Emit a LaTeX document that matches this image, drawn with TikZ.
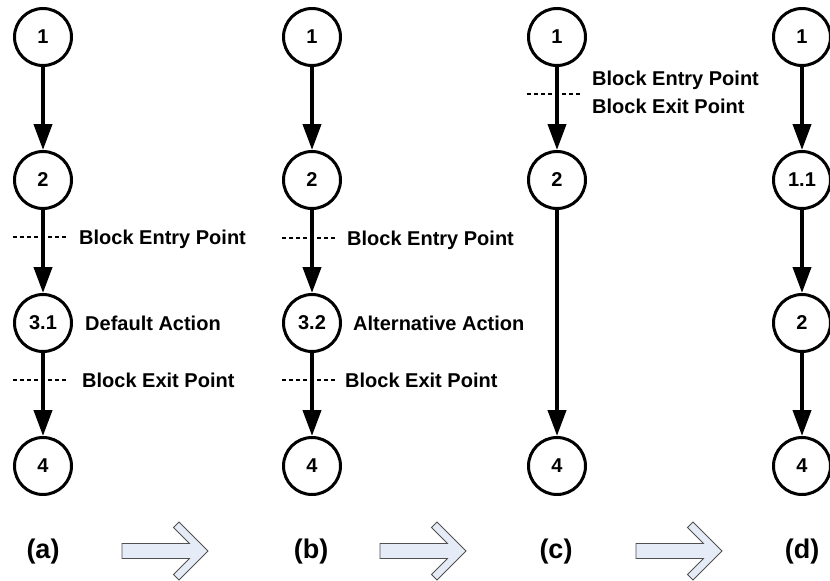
\documentclass[tikz,border=0pt]{standalone}
\usepackage{fontspec}
\setmainfont{Liberation Sans}
\usetikzlibrary{arrows.meta}
\definecolor{blkfill}{HTML}{E6ECF7}
\definecolor{blkline}{HTML}{505050}
\begin{document}
\begin{tikzpicture}[x=1pt,y=-1pt,
  state/.style={circle,draw,line width=3pt,minimum size=57pt,inner sep=0pt,font=\fontsize{20}{24}\selectfont\bfseries},
  flow/.style={line width=4pt,-{Triangle[length=26pt,width=18pt]}},
  marker/.style={line width=1.3pt,dash pattern=on 4pt off 3pt},
  note/.style={anchor=base west,inner sep=0pt,font=\fontsize{20}{24}\selectfont\bfseries},
  caption/.style={font=\fontsize{27}{32}\selectfont\bfseries,inner sep=0pt},
  bigarrow/.style={draw=blkline,fill=blkfill,line width=0.8pt,line join=miter},
  blockarrow/.pic={\draw[bigarrow] (-86,-7.5) -- (-18.5,-7.5) -- (-34.5,-23.5) -- (-29,-29) -- (0,0)
      -- (-29,29) -- (-34.5,23.5) -- (-18.5,7.5) -- (-86,7.5) -- cycle;}]
\useasboundingbox (0,0) rectangle (830,581);

% column (a)
\node[state] (a1) at (43,37) {1};
\node[state] (a2) at (43,180) {2};
\node[state] (a3) at (43,323) {3.1};
\node[state] (a4) at (43,466) {4};
\draw[flow] (a1) -- (a2);
\draw[flow] (a2) -- (a3);
\draw[flow] (a3) -- (a4);
\draw[marker] (13,237) -- (68,237);
\draw[marker] (13,380) -- (68,380);
\node[note] (aen) at (79,244) {Block Entry Point};
\node[note] (ada) at (85,330) {Default Action};
\node[note] (aex) at (82,387) {Block Exit Point};
\node[caption] (la) at (43,552) {(a)};

% column (b)
\node[state] (b1) at (312,37) {1};
\node[state] (b2) at (312,180) {2};
\node[state] (b3) at (312,323) {3.2};
\node[state] (b4) at (312,466) {4};
\draw[flow] (b1) -- (b2);
\draw[flow] (b2) -- (b3);
\draw[flow] (b3) -- (b4);
\draw[marker] (282,238) -- (337,238);
\draw[marker] (282,380) -- (337,380);
\node[note] (ben) at (347,245) {Block Entry Point};
\node[note] (baa) at (353,330) {Alternative Action};
\node[note] (bex) at (345,387) {Block Exit Point};
\node[caption] (lb) at (311,552) {(b)};

% column (c)
\node[state] (c1) at (557,37) {1};
\node[state] (c2) at (557,180) {2};
\node[state] (c4) at (557,466) {4};
\draw[flow] (c1) -- (c2);
\draw[flow] (c2) -- (c4);
\draw[marker] (527,94) -- (582,94);
\node[note] (cen) at (592,85) {Block Entry Point};
\node[note] (cex) at (592,113) {Block Exit Point};
\node[caption] (lc) at (556,552) {(c)};

% column (d)
\node[state] (d1) at (802,37) {1};
\node[state] (d2) at (802,180) {1.1};
\node[state] (d3) at (802,323) {2};
\node[state] (d4) at (802,466) {4};
\draw[flow] (d1) -- (d2);
\draw[flow] (d2) -- (d3);
\draw[flow] (d3) -- (d4);
\node[caption] (ld) at (802,552) {(d)};

% transition arrows
\pic at (208,551) {blockarrow};
\pic at (466,551) {blockarrow};
\pic at (722,551) {blockarrow};
\end{tikzpicture}
\end{document}
